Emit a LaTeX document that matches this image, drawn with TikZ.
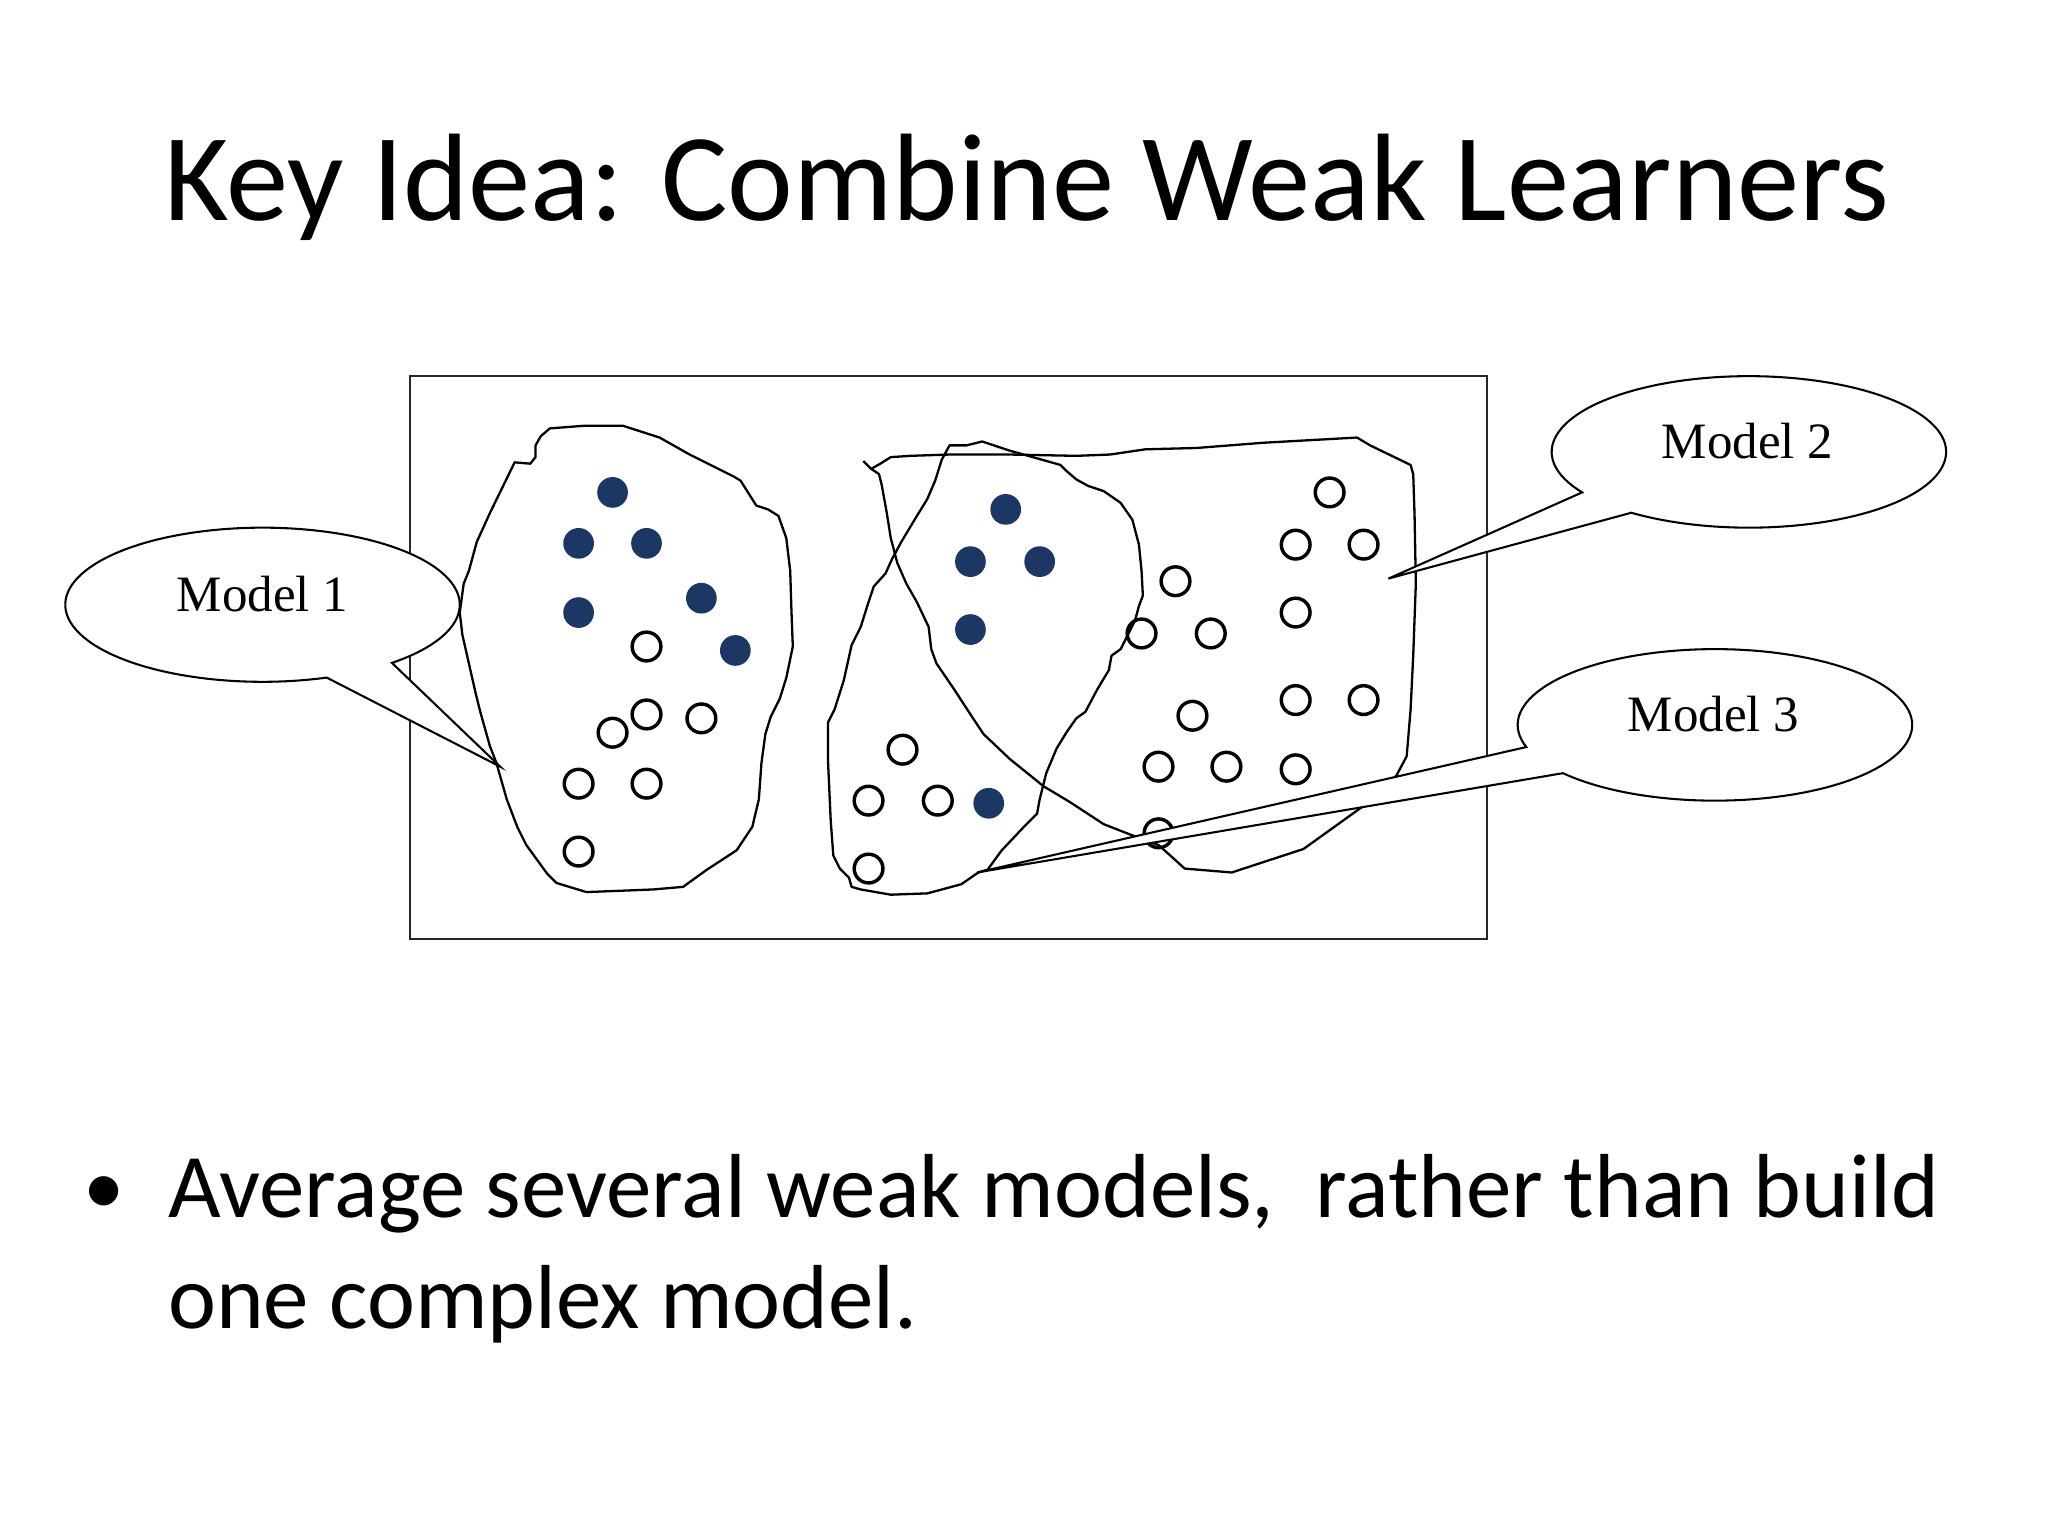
\documentclass[tikz,border=0pt]{standalone}
\usepackage{fontspec}
\setmainfont{Carlito}
\newfontfamily\serifm{Liberation Serif}
\definecolor{navy}{HTML}{1C3764}
\begin{document}
\begin{tikzpicture}[x=0.01cm,y=-0.01cm,
  fulldot/.style={circle,fill=navy,inner sep=0pt,minimum size=0.235cm},
  opendot/.style={circle,draw=black,line width=0.75pt,inner sep=0pt,minimum size=0.22cm},
  blob/.style={draw=black,line width=0.5pt,line join=round},
  callout/.style={draw=black,fill=white,line width=0.45pt,line join=miter},
  mtext/.style={font=\serifm\fontsize{11.1pt}{13pt}\selectfont,anchor=base,inner sep=0pt},
  bodytext/.style={font=\fontsize{19.8pt}{24pt}\selectfont,anchor=base west,inner sep=0pt}]
\useasboundingbox (0,0) rectangle (1568,1176);
\fill[white] (0,0) rectangle (1568,1176);

% title
\node[anchor=base,inner sep=0pt,font=\fontsize{27.1pt}{32pt}\selectfont] (title) at (786,169) {Key Idea: Combine Weak Learners};

% frame
\node[draw=black!85,line width=0.5pt,inner sep=0pt,minimum width=8.24cm,minimum height=4.31cm,anchor=north west] (frame) at (313,287) {};

% blob 1 (Model 1)
\draw[blob] (394,354) -- (406,355) -- (410,350) -- (410,341) -- (414,334) -- (421,328) -- (447,326) -- (477,326) -- (505,335) -- (528,348) -- (562,365) -- (567,368) -- (579,387) -- (588,390) -- (596,395) -- (602,412) -- (605,437) -- (606,469) -- (607,495) -- (602,519) -- (597,535) -- (590,549) -- (586,562) -- (583,584) -- (581,612) -- (576,633) -- (564,651) -- (541,666) -- (523,679) -- (500,681) -- (475,682) -- (449,683) -- (426,676) -- (419,669) -- (411,658) -- (403,647) -- (396,633) -- (388,612) -- (380,584) -- (375,571) -- (368,546) -- (364,530) -- (359,508) -- (354,486) -- (352,469) -- (355,447) -- (359,437) -- (365,415) -- (375,393) -- cycle;

% blob A (Model 2)
\draw[blob] (661,353) -- (667,359) -- (673,363) -- (675,371) -- (679,393) -- (682,412) -- (687,431) -- (694,447) -- (702,461) -- (711,480) -- (713,497) -- (717,508) -- (730,527) -- (745,550) -- (753,562) -- (773,581) -- (799,602) -- (819,614) -- (845,631) -- (868,640) -- (887,647) -- (896,655) -- (907,665) -- (943,668) -- (998,650) -- (1044,617) -- (1069,594) -- (1077,579) -- (1080,543) -- (1082,502) -- (1084,447) -- (1083,393) -- (1082,363) -- (1080,356) -- (1049,341) -- (1039,335) -- (967,339) -- (916,343) -- (877,344) -- (850,348) -- (824,349) -- (773,348) -- (727,348) -- (697,349) -- (682,350) -- (674,355) -- (667,359);

% blob B (Model 3)
\draw[blob] (727,341) -- (740,341) -- (752,338) -- (773,345) -- (812,356) -- (817,361) -- (824,367) -- (833,372) -- (845,376) -- (858,385) -- (867,398) -- (872,417) -- (874,437) -- (875,456) -- (872,464) -- (869,475) -- (863,487) -- (858,497) -- (851,502) -- (849,513) -- (840,528) -- (831,545) -- (824,550) -- (817,560) -- (809,573) -- (801,592) -- (796,612) -- (794,623) -- (784,633) -- (767,651) -- (756,666) -- (749,668) -- (736,677) -- (710,684) -- (682,685) -- (659,681) -- (652,679) -- (650,672) -- (643,665) -- (638,655) -- (636,628) -- (634,584) -- (634,553) -- (639,543) -- (646,521) -- (652,494) -- (659,480) -- (664,464) -- (669,449) -- (678,439) -- (683,428) -- (690,415) -- (702,395) -- (710,382) -- (716,368) -- (721,352) -- cycle;

% filled dots
\foreach \p [count=\i] in {(469,377),(443,416),(495,416),(443,469),(537,458),(563,498),(770,390),(743,430),(796,430),(743,482),(757,615)}
  \node[fulldot] (f\i) at \p {};

% open dots
\foreach \p [count=\i] in {(495,495),(495,547),(537,550),(469,561),(443,600),(495,600),(443,652),
  (691,574),(665,613),(718,613),(665,665),
  (900,445),(874,485),(927,485),(913,548),(887,587),(939,587),(887,638),
  (1018,377),(992,417),(1044,417),(992,469),(992,536),(1044,536),(992,589)}
  \node[opendot] (o\i) at \p {};

% callouts
\coordinate (c1) at (201,463);
\coordinate (t1) at (383,587);
\draw[callout] (c1) ++(71:151 and 59) arc[start angle=71, end angle=409, x radius=151, y radius=59] -- (t1) -- cycle;
\node[mtext] (m1) at (201,468) {Model 1};

\coordinate (c2) at (1339,346);
\coordinate (t2) at (1063,443);
\draw[callout] (c2) ++(147.7:151 and 58) arc[start angle=147.7, end angle=486.6, x radius=151, y radius=58] -- (t2) -- cycle;
\node[mtext] (m2) at (1338,351) {Model 2};

\coordinate (c3) at (1313,555);
\coordinate (t3) at (748,668);
\draw[callout] (c3) ++(163:151 and 58) arc[start angle=163, end angle=500.4, x radius=151, y radius=58] -- (t3) -- cycle;
\node[mtext] (m3) at (1312,560) {Model 3};

% bullet text
\node[anchor=base,inner sep=0pt,font=\fontsize{18pt}{22pt}\selectfont] (bul) at (80,930) {•};
\node[bodytext] (b1) at (128,932) {Average several weak models,~ rather than build};
\node[bodytext] (b2) at (128,1017) {one complex model.};
\end{tikzpicture}
\end{document}
